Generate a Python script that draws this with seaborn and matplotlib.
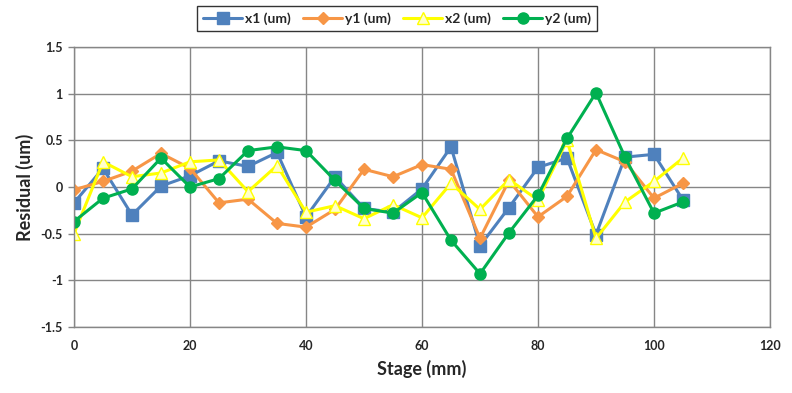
import pandas as pd
import matplotlib
matplotlib.use("Agg")
import matplotlib.pyplot as plt
import seaborn as sns

# stage positions (mm)
stage = [0, 5, 10, 15, 20, 25, 30, 35, 40, 45, 50,
         55, 60, 65, 70, 75, 80, 85, 90, 95, 100, 105]

# residuals (um)
x1 = [-0.17, 0.20, -0.30, 0.01, 0.12, 0.28, 0.22, 0.37, -0.32, 0.11, -0.23,
      -0.27, -0.02, 0.43, -0.63, -0.22, 0.21, 0.31, -0.51, 0.32, 0.35, -0.14]
y1 = [-0.03, 0.06, 0.17, 0.36, 0.20, -0.17, -0.13, -0.39, -0.43, -0.24, 0.19,
      0.11, 0.24, 0.19, -0.55, 0.07, -0.32, -0.10, 0.40, 0.27, -0.12, 0.04]
x2 = [-0.50, 0.27, 0.11, 0.15, 0.27, 0.29, -0.05, 0.23, -0.27, -0.20, -0.34,
      -0.19, -0.33, 0.04, -0.24, 0.08, -0.14, 0.50, -0.55, -0.16, 0.06, 0.31]
y2 = [-0.37, -0.12, -0.02, 0.31, 0.00, 0.09, 0.39, 0.43, 0.39, 0.07, -0.23,
      -0.28, -0.06, -0.57, -0.93, -0.49, -0.09, 0.52, 1.01, 0.32, -0.28, -0.16]

series = ["x1 (um)", "y1 (um)", "x2 (um)", "y2 (um)"]
x_ticks = [0, 20, 40, 60, 80, 100, 120]
y_ticks = [-1.5, -1, -0.5, 0, 0.5, 1, 1.5]
y_tick_labels = ["-1.5", "-1", "-0.5", "0", "0.5", "1", "1.5"]

sns.set_style("white")
plt.rcParams["font.family"] = ["Lato", "DejaVu Sans"]

styles = {
    "x1 (um)": dict(color="#4F81BD", marker="s", ms=8, mfc="#4F81BD", mec="#4F81BD"),
    "y1 (um)": dict(color="#F79646", marker="D", ms=6, mfc="#F79646", mec="#F79646"),
    "x2 (um)": dict(color="#FFFF00", marker="^", ms=8, mfc="#FFFFCC", mec="#FFFF00"),
    "y2 (um)": dict(color="#00B050", marker="o", ms=8, mfc="#00B050", mec="#00B050"),
}

df = pd.DataFrame({"Stage": stage, "x1 (um)": x1, "y1 (um)": y1,
                   "x2 (um)": x2, "y2 (um)": y2})

fig = plt.figure(figsize=(7.92, 3.93), dpi=100)
ax = fig.add_axes([74 / 792, 1 - 327 / 393, 696 / 792, 280 / 393])

for name in series:
    st = styles[name]
    sns.lineplot(data=df, x="Stage", y=name, ax=ax, label=name,
                 color=st["color"], marker=st["marker"], markersize=st["ms"],
                 markerfacecolor=st["mfc"], markeredgecolor=st["mec"],
                 markeredgewidth=1, linewidth=2.2)

ax.set_xlim(0, 120)
ax.set_ylim(-1.5, 1.5)
ax.set_xticks(x_ticks)
ax.set_yticks(y_ticks)
ax.set_yticklabels(y_tick_labels)
ax.grid(True, color="#868686", linewidth=1)
ax.set_axisbelow(True)
for s in ax.spines.values():
    s.set_color("#868686")
    s.set_linewidth(1)

ax.tick_params(axis="y", left=True, length=4, width=1, color="#868686",
               pad=4, labelsize=9)
ax.tick_params(axis="x", bottom=False, length=0, pad=9, labelsize=9)
for lab in ax.get_xticklabels() + ax.get_yticklabels():
    lab.set_fontweight("bold")

ax.set_xlabel("Stage (mm)", fontsize=13, fontweight="bold", labelpad=6)
ax.set_ylabel("Residual (um)", fontsize=13, fontweight="bold", labelpad=5)

ax.get_legend().remove()
handles, labels = ax.get_legend_handles_labels()
leg = fig.legend(handles, labels, loc="center", bbox_to_anchor=(397 / 792, 1 - 18.5 / 393),
                 ncol=4, frameon=True, fancybox=False, handlelength=2.8,
                 columnspacing=0.9, handletextpad=0.2, borderpad=0.45,
                 prop={"weight": "bold", "size": 10})
leg.get_frame().set_edgecolor("black")
leg.get_frame().set_linewidth(1)

fig.savefig("out.png", dpi=100)
